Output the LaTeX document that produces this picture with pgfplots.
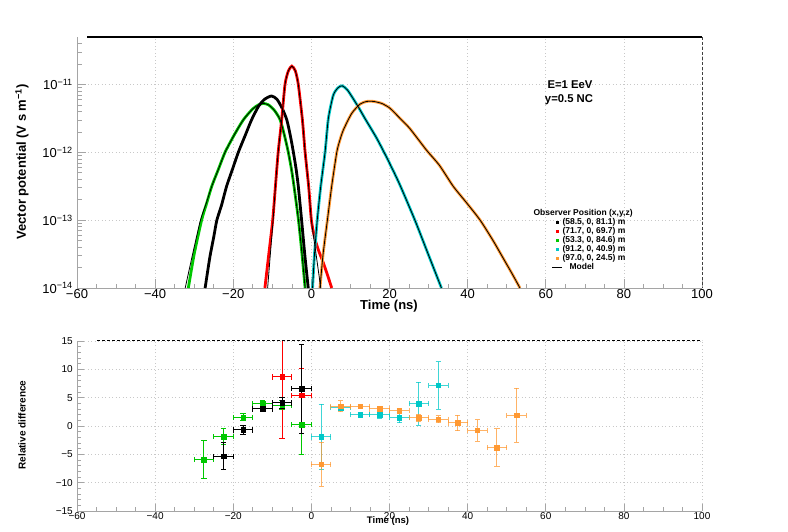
\documentclass[border=0pt]{standalone}
\usepackage{pgfplots}
\usepackage{pgfplotstable}
\pgfplotsset{compat=1.18}
\usepackage{fontspec}
\setmainfont{Liberation Sans}
\definecolor{cgreen}{RGB}{0,200,0}
\definecolor{ccyan}{RGB}{0,200,200}
\definecolor{corange}{RGB}{255,153,51}
\definecolor{cred}{RGB}{255,0,0}
\definecolor{gridgray}{RGB}{200,200,200}
\definecolor{axgray}{RGB}{165,165,165}

% ---------- top panel: vector potential (t in ns, value in V s/m)
\pgfplotstableread{
t v
-27.2 1.00e-14
-26.0 2.82e-14
-25.0 5.62e-14
-24.2 1.00e-13
-23.0 1.66e-13
-21.7 3.16e-13
-20.2 5.62e-13
-18.7 1.00e-12
-17.0 1.74e-12
-15.3 3.02e-12
-13.5 4.79e-12
-12.0 6.03e-12
-10.2 6.76e-12
-8.8 6.03e-12
-7.5 4.47e-12
-6.3 3.02e-12
-5.4 1.78e-12
-4.6 1.00e-12
-3.9 5.62e-13
-3.35 3.16e-13
-2.5 1.00e-13
-1.7 3.16e-14
-0.8 1.00e-14
}\blackdata
\pgfplotstableread{
t v
-31.5 1.00e-14
-30.0 3.16e-14
-28.1 1.00e-13
-26.8 1.78e-13
-25.5 3.16e-13
-23.8 5.62e-13
-22.1 1.00e-12
-19.8 1.78e-12
-17.4 3.02e-12
-15.0 4.37e-12
-13.5 5.01e-12
-12.3 5.25e-12
-11.0 5.01e-12
-9.5 4.17e-12
-8.0 3.02e-12
-6.9 1.78e-12
-5.9 1.00e-12
-5.1 5.62e-13
-4.45 3.16e-13
-3.3 1.00e-13
-2.4 3.16e-14
-1.6 1.00e-14
}\greendata
\pgfplotstableread{
t v
-32.3 1.00e-14
-30.4 3.16e-14
-28.4 1.00e-13
-26.9 1.78e-13
-25.5 3.16e-13
-23.8 5.62e-13
-22.1 1.00e-12
-19.8 1.78e-12
-17.4 3.02e-12
-15.0 4.37e-12
-13.5 5.01e-12
-12.3 5.25e-12
-11.0 5.01e-12
-9.5 4.17e-12
-8.0 3.02e-12
-6.9 1.78e-12
-5.9 1.00e-12
-5.1 5.62e-13
-4.45 3.16e-13
-3.3 1.00e-13
-2.4 3.16e-14
-1.6 1.00e-14
}\greenmodel
\pgfplotstableread{
t v
-11.9 1.00e-14
-10.9 3.16e-14
-9.9 1.00e-13
-9.2 3.16e-13
-8.5 1.00e-12
-7.6 3.02e-12
-6.75 1.00e-11
-5.9 1.58e-11
-5.0 1.86e-11
-4.1 1.58e-11
-3.35 1.00e-11
-2.3 3.02e-12
-1.6 1.00e-12
-0.7 3.16e-13
0.0 1.00e-13
0.8 5.62e-14
1.8 3.63e-14
3.0 2.40e-14
4.2 1.51e-14
5.2 1.00e-14
}\reddata
\pgfplotstableread{
t v
-11.2 1.00e-14
-10.5 3.16e-14
-9.8 1.00e-13
-9.2 3.16e-13
-8.5 1.00e-12
-7.6 3.02e-12
-6.75 1.00e-11
-5.9 1.58e-11
-5.0 1.86e-11
-4.1 1.58e-11
-3.35 1.00e-11
-2.3 3.02e-12
-1.6 1.00e-12
-0.7 3.16e-13
0.0 1.00e-13
1.2 3.16e-14
2.4 1.00e-14
}\redmodel
\pgfplotstableread{
t v
0.3 1.00e-14
0.8 3.16e-14
1.5 1.00e-13
2.4 3.16e-13
3.5 1.00e-12
4.35 3.16e-12
5.6 6.92e-12
6.8 8.91e-12
7.9 9.55e-12
9.2 8.32e-12
10.7 6.17e-12
12.2 4.47e-12
13.7 3.16e-12
16.7 1.62e-12
19.4 8.13e-13
22.5 3.47e-13
26.5 1.00e-13
29.9 3.16e-14
33.3 1.00e-14
}\cyandata
\pgfplotstableread{
t v
2.2 1.00e-14
3.0 3.16e-14
4.1 1.00e-13
5.2 3.16e-13
6.5 1.00e-12
7.3 1.51e-12
8.2 2.14e-12
10.3 3.72e-12
12.45 5.13e-12
14.2 5.62e-12
15.9 5.62e-12
18.0 5.25e-12
20.1 4.47e-12
22.7 3.16e-12
25.2 2.24e-12
29.5 1.07e-12
32.75 6.46e-13
36.3 3.16e-13
39.8 1.78e-13
43.2 1.00e-13
46.5 5.01e-14
49.5 2.51e-14
51.5 1.58e-14
53.4 1.00e-14
}\orangedata

% ---------- bottom panel: relative difference
\pgfplotstableread{
t v ex ey
-27.5 -5.93 2.5 3.4
-22.5 -1.87 2.5 1.35
-17.5 1.54 2.5 0.65
-12.5 4.0 2.5 0.5
-7.5 3.7 2.5 0.8
-2.5 0.24 2.5 5.2
}\greenrel
\pgfplotstableread{
t v ex ey
-22.5 -5.35 2.5 2.35
-17.5 -0.7 2.5 0.8
-12.5 3.0 2.5 0.35
-7.5 4.06 2.5 0.9
-2.5 6.6 2.5 7.85
}\blackrel
\pgfplotstableread{
t v ex ey
-7.5 8.65 2.5 10.85
-2.5 5.4 2.5 4.75
}\redrel
\pgfplotstableread{
t v ex ey
2.5 -1.94 2.5 5.8
7.5 3.24 2.5 0.5
12.5 2.0 2.5 0.3
17.5 2.0 2.5 0.6
22.5 1.47 2.5 0.9
27.5 3.94 2.5 3.8
32.5 7.18 2.5 4.2
}\cyanrel
\pgfplotstableread{
t v ex ey
2.5 -6.76 2.5 3.9
7.5 3.48 2.5 0.95
12.5 3.5 2.5 0.3
17.5 3.0 2.5 0.35
22.5 2.71 2.5 0.35
27.5 1.47 2.5 0.6
32.5 1.18 2.5 0.6
37.5 0.53 2.5 1.4
42.5 -0.76 2.5 1.9
47.5 -3.82 2.5 3.3
52.5 1.89 2.5 4.8
}\orangerel

\pgfplotsset{
  rootaxis/.style={
    scale only axis,
    anchor=south west,
    axis x line=bottom, axis y line=left,
    axis line style={axgray, line width=0.8pt, -},
    tick style={axgray, line width=0.6pt},
    tick align=inside,
    xmin=-60, xmax=100,
    xtick={-60,-40,-20,0,20,40,60,80,100},
    xticklabels={−60,−40,−20,0,20,40,60,80,100},
    minor x tick num=3,
    grid=major,
    major grid style={gridgray, line width=0.7pt, dash pattern=on 1pt off 2.5pt},
  },
  relbar/.style={only marks, mark=square*, mark size=2.3pt, forget plot,
    error bars/x dir=both, error bars/x explicit,
    error bars/y dir=both, error bars/y explicit,
    error bars/error bar style={line width=1pt, opacity=#1},
    error bars/error mark options={rotate=90, mark size=2.6pt, line width=1pt, opacity=#1}},
  relbar/.default=1,
  modelimage/.style={legend image code/.code={\draw[##1] (0.12cm,0cm) -- (0.45cm,0cm);}},
}

\begin{document}
\begin{tikzpicture}
\path[use as bounding box] (0pt,0pt) rectangle (788pt,532pt);

% ================= TOP PANEL
\begin{axis}[rootaxis,
  at={(77pt,244pt)}, width=625pt, height=251pt,
  ymode=log, ymin=1e-14, ymax=5e-11,
  ytick={1e-14,1e-13,1e-12,1e-11},
  yticklabels={10\textsuperscript{−14},10\textsuperscript{−13},10\textsuperscript{−12},10\textsuperscript{−11}},
  minor ytick={2e-14,3e-14,4e-14,5e-14,6e-14,7e-14,8e-14,9e-14,
               2e-13,3e-13,4e-13,5e-13,6e-13,7e-13,8e-13,9e-13,
               2e-12,3e-12,4e-12,5e-12,6e-12,7e-12,8e-12,9e-12,
               2e-11,3e-11,4e-11},
  major tick length=9pt, minor tick length=4.5pt,
  ticklabel style={font=\fontsize{13}{13}\selectfont},
  xticklabel style={inner sep=0pt, yshift=-1pt},
  yticklabel style={inner sep=0pt, xshift=-4pt},
  legend style={at={(0.7544,0.3147)}, anchor=north west, draw=none, fill=none,
    inner sep=0pt, row sep=0pt,
    font=\fontsize{8.5}{8.5}\selectfont\bfseries,
    nodes={inner sep=0.6pt, text height=6.1pt, text depth=1.6pt}},
  legend cell align=left,
]
\addlegendimage{empty legend}\addlegendentry{\hspace*{-29pt}Observer Position (x,y,z)}
\addlegendimage{only marks, mark=square*, mark size=1pt, black}\addlegendentry{(58.5, 0, 81.1) m}
\addlegendimage{only marks, mark=square*, mark size=1pt, cred}\addlegendentry{(71.7, 0, 69.7) m}
\addlegendimage{only marks, mark=square*, mark size=1pt, cgreen}\addlegendentry{(53.3, 0, 84.6) m}
\addlegendimage{only marks, mark=square*, mark size=1pt, ccyan}\addlegendentry{(91.2, 0, 40.9) m}
\addlegendimage{only marks, mark=square*, mark size=1pt, corange}\addlegendentry{(97.0, 0, 24.5) m}
\addlegendimage{black, line width=0.9pt, modelimage}\addlegendentry{\hspace*{7pt}Model}

% data (dense dots drawn as thick bands)
\addplot[cgreen, line width=2.8pt, smooth, tension=0.4, forget plot] table[x=t,y=v] {\greendata};
\addplot[black, line width=2.8pt, smooth, tension=0.4, forget plot] table[x=t,y=v] {\blackdata};
\addplot[cred, line width=2.8pt, smooth, tension=0.4, forget plot] table[x=t,y=v] {\reddata};
\addplot[ccyan, line width=2.8pt, smooth, tension=0.4, forget plot] table[x=t,y=v] {\cyandata};
\addplot[corange, line width=2.8pt, smooth, tension=0.4, forget plot] table[x=t,y=v] {\orangedata};
% model
\addplot[black, line width=0.8pt, smooth, tension=0.4, forget plot] table[x=t,y=v] {\greenmodel};
\addplot[black, line width=0.8pt, smooth, tension=0.4, forget plot] table[x=t,y=v] {\blackdata};
\addplot[black, line width=0.8pt, smooth, tension=0.4, forget plot] table[x=t,y=v] {\redmodel};
\addplot[black, line width=0.8pt, smooth, tension=0.4, forget plot] table[x=t,y=v] {\cyandata};
\addplot[black, line width=0.8pt, smooth, tension=0.4, forget plot] table[x=t,y=v] {\orangedata};
\end{axis}

% ================= BOTTOM PANEL
\begin{axis}[rootaxis,
  at={(77pt,21pt)}, width=625pt, height=170pt,
  ymin=-15, ymax=15,
  ytick={-15,-10,-5,0,5,10,15},
  yticklabels={−15,−10,−5,0,5,10,15},
  minor y tick num=4,
  major tick length=7pt, minor tick length=3.5pt,
  ticklabel style={font=\fontsize{10}{10}\selectfont},
  xticklabel style={inner sep=0pt, yshift=-1pt},
  yticklabel style={inner sep=0pt, xshift=-4pt},
]
\addplot[cgreen, relbar] table[x=t, y=v, x error=ex, y error=ey] {\greenrel};
\addplot[ccyan, relbar=0.75] table[x=t, y=v, x error=ex, y error=ey] {\cyanrel};
\addplot[corange, relbar=0.75] table[x=t, y=v, x error=ex, y error=ey] {\orangerel};
\addplot[cred, relbar] table[x=t, y=v, x error=ex, y error=ey] {\redrel};
\addplot[black, relbar] table[x=t, y=v, x error=ex, y error=ey] {\blackrel};
\end{axis}

% frame details
\draw[black, line width=1.1pt] (87pt,495pt) -- (702pt,495pt);
\draw[black!75, line width=1pt, densely dashed] (702pt,495pt) -- (702pt,244pt);
\draw[black, line width=0.9pt, densely dashed] (97pt,191.3pt) -- (702pt,191.3pt);

% texts
\node[rotate=90, font=\fontsize{13}{13}\selectfont\bfseries] at (22pt,370pt) {Vector potential (V s m\textsuperscript{−1})};
\node[font=\fontsize{13}{13}\selectfont\bfseries] at (389pt,226pt) {Time (ns)};
\node[font=\fontsize{11.3}{11.3}\selectfont\bfseries] at (570pt,447pt) {E=1 EeV};
\node[font=\fontsize{11.3}{11.3}\selectfont\bfseries] at (569pt,432pt) {y=0.5 NC};
\node[rotate=90, font=\fontsize{10}{10}\selectfont\bfseries] at (22pt,107pt) {Relative difference};
\node[font=\fontsize{9.5}{9.5}\selectfont\bfseries] at (388pt,10.5pt) {Time (ns)};
\end{tikzpicture}
\end{document}
